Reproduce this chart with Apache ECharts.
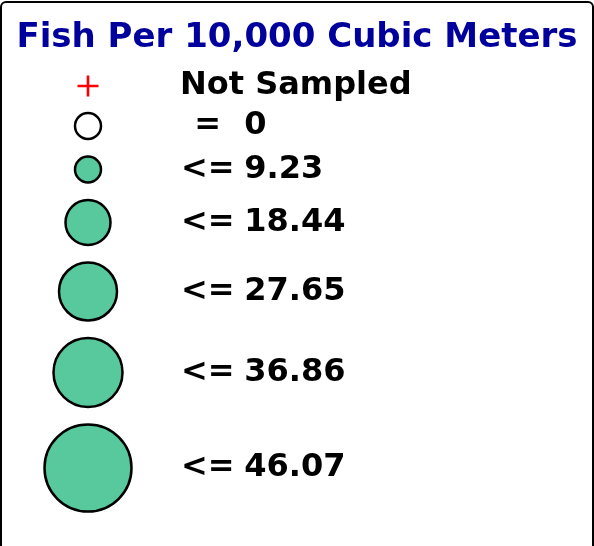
<!DOCTYPE html>
<html>
<head>
    <meta charset="UTF-8">
    <script src="https://cdn.jsdelivr.net/npm/echarts@6/dist/echarts.min.js"></script>
    <style>
    html, body {
        margin: 0;
        padding: 0;
        background: #fff;
    }
    #legend_chart {
        width: 594px;
        height: 546px;
    }
    </style>
</head>
<body>
    <div id="legend_chart"></div>
    <script>
    // legend classes, top to bottom
    var classNames = ['Not Sampled', '= 0', '<= 9.23', '<= 18.44', '<= 27.65', '<= 36.86', '<= 46.07'];
    var classOps = ['', '=', '<=', '<=', '<=', '<=', '<='];
    var classLimits = ['', '0', '9.23', '18.44', '27.65', '36.86', '46.07'];
    // circle diameters (px)
    var symbolDiameters = [21, 28, 28, 47, 60, 71, 89];

    var colX = 88;        // centre of the symbol column
    var labelX = 180;     // left edge of the text column
    var firstRowY = 86;
    var rowGap = 15.5;    // white space between two symbols
    var crossPath = 'path://M8.75,0h2.5v20h-2.5zM0,8.75h20v2.5h-20z';

    // stack the rows from the symbol sizes
    var rowY = [];
    symbolDiameters.forEach(function(d, i) {
        if (i == 0) {
            rowY.push(firstRowY);
        } else {
            rowY.push(rowY[i - 1] + (symbolDiameters[i - 1] + d) / 2 + rowGap);
        }
    });

    var items = classNames.map(function(name, i) {
        var size = i == 0 ? symbolDiameters[0] : symbolDiameters[i] - 2;
        var style;
        if (i == 0) {
            style = { color: '#ff0000', borderWidth: 0, opacity: 1 };
        } else {
            style = { color: i == 1 ? '#ffffff' : '#57c99d', borderColor: '#000', borderWidth: 2.5, opacity: 1 };
        }
        return {
            name: name,
            value: [colX, rowY[i]],
            symbol: i == 0 ? crossPath : 'circle',
            symbolSize: size,
            itemStyle: style,
            label: {
                distance: labelX - colX - size / 2
            }
        };
    });

    var txt = { fontFamily: 'DejaVu Sans', fontWeight: 'bold', fontSize: 32, color: '#000', opacity: 1 };

    var option = {
        animation: false,
        backgroundColor: '#fff',
        title: {
            text: 'Fish Per 10,000 Cubic Meters',
            left: 'center',
            top: 16,
            textStyle: {
                color: '#00009c',
                fontFamily: 'DejaVu Sans',
                fontWeight: 'bold',
                fontSize: 34
            }
        },
        grid: { left: 0, right: 0, top: 0, bottom: 0 },
        xAxis: { type: 'value', min: 0, max: 594, show: false },
        yAxis: { type: 'value', min: 0, max: 546, inverse: true, show: false },
        graphic: [{
            type: 'rect',
            shape: { x: 1, y: 2, width: 592, height: 560, r: [5, 5, 0, 0] },
            style: { fill: null, stroke: '#000', lineWidth: 2 },
            silent: true
        }],
        series: [{
            type: 'scatter',
            data: items,
            itemStyle: { opacity: 1 },
            label: {
                show: true,
                position: 'right',
                fontFamily: 'DejaVu Sans',
                fontWeight: 'bold',
                fontSize: 32,
                color: '#000',
                opacity: 1,
                formatter: function(p) {
                    var i = p.dataIndex;
                    if (classOps[i] == '') {
                        return '{plain|' + classNames[i] + '}';
                    }
                    return '{op|' + classOps[i] + '}{num|' + classLimits[i] + '}';
                },
                rich: {
                    plain: txt,
                    op: Object.assign({ width: 53, align: 'right' }, txt),
                    num: Object.assign({ padding: [0, 0, 0, 10] }, txt)
                }
            },
            emphasis: { disabled: true }
        }]
    };

    var myChart = echarts.init(document.getElementById('legend_chart'));
    myChart.setOption(option);
    </script>
</body>
</html>
